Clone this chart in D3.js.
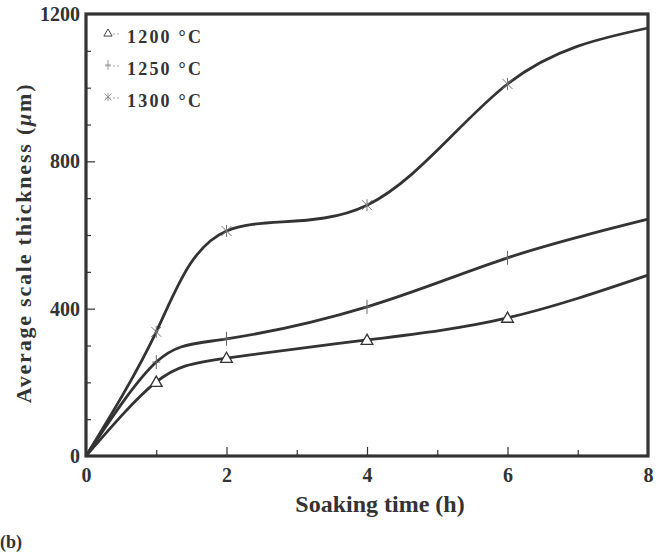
<!DOCTYPE html>
<html>
<head>
<meta charset="utf-8">
<script src="https://cdn.jsdelivr.net/npm/d3@7"></script>
<style>
  body { margin: 0; background: #fff; }
  svg text { font-family: "Liberation Serif", "Times New Roman", serif; font-weight: bold; fill: #333; }
</style>
</head>
<body>
<div id="chart"></div>
<script>
// soaking time (h)
const hours = [0, 1, 2, 4, 6, 8];
// average scale thickness (um)
const t1200 = [0, 201, 266, 315, 375, 491];
const t1250 = [0, 255, 318, 405, 538, 643];
const t1300 = [0, 337, 611, 681, 1010, 1162];
const seriesNames = ["1200 \u00b0C", "1250 \u00b0C", "1300 \u00b0C"];
const xTicks = [0, 2, 4, 6, 8];
const yTicks = [0, 400, 800, 1200];

const W = 665, H = 557;
const margin = { top: 14, right: 17, bottom: 101, left: 86 };
const width = W - margin.left - margin.right;
const height = H - margin.top - margin.bottom;
const ink = "#333";

const svg = d3.select("#chart").append("svg")
    .attr("width", W)
    .attr("height", H);

const g = svg.append("g")
    .attr("transform", `translate(${margin.left},${margin.top})`);

const x = d3.scaleLinear().domain([0, 8]).range([0, width]);
const y = d3.scaleLinear().domain([0, 1200]).range([height, 0]);

// inner ticks
g.append("g")
    .attr("transform", `translate(0,${height})`)
    .call(d3.axisBottom(x).tickValues(d3.range(1, 8)).tickSize(0).tickFormat(""))
    .call(a => a.select(".domain").remove())
    .call(a => a.selectAll(".tick line")
        .attr("y2", d => d % 2 === 0 ? -9 : -6)
        .attr("stroke", ink).attr("stroke-width", 1.2));

g.append("g")
    .call(d3.axisLeft(y).tickValues(d3.range(100, 1200, 100)).tickSize(0).tickFormat(""))
    .call(a => a.select(".domain").remove())
    .call(a => a.selectAll(".tick line")
        .attr("x2", d => d % 400 === 0 ? 9 : 5)
        .attr("stroke", ink).attr("stroke-width", 1.2));

// tick labels
function styleLabels(a) {
    a.select(".domain").remove();
    a.selectAll("text").attr("font-size", 20)
        .style("font-family", "Liberation Serif").style("font-weight", "bold").attr("fill", ink);
}
g.append("g")
    .attr("transform", `translate(0,${height})`)
    .call(d3.axisBottom(x).tickValues(xTicks).tickSize(0).tickPadding(12).tickFormat(d3.format("d")))
    .call(styleLabels);

g.append("g")
    .call(d3.axisLeft(y).tickValues(yTicks).tickSize(0).tickPadding(6).tickFormat(d3.format("d")))
    .call(styleLabels);

// frame
g.append("rect")
    .attr("width", width).attr("height", height)
    .attr("fill", "none").attr("stroke", ink).attr("stroke-width", 3.2);

// curves
const line = d3.line()
    .x((d, i) => x(hours[i]))
    .y(d => y(d))
    .curve(d3.curveNatural);

[t1200, t1250, t1300].forEach(s => {
    g.append("path")
        .datum(s)
        .attr("d", line)
        .attr("fill", "none")
        .attr("stroke", ink)
        .attr("stroke-width", 2.8);
});

// markers (none shown at the end point on the frame)
const tri = d3.symbol().type(d3.symbolTriangle).size(60);
function drawMarker(sel, k) {
    if (k === 0) {
        sel.append("path").attr("d", tri).attr("fill", "#fff").attr("stroke", ink).attr("stroke-width", 1.3)
            .attr("transform", "translate(0,1)");
    } else if (k === 1) {
        sel.append("path").attr("d", "M0,-7V7").attr("stroke", "#666").attr("stroke-width", 1);
        sel.append("path").attr("d", "M-4,0H4").attr("stroke", "#666").attr("stroke-width", 1);
    } else {
        sel.append("path").attr("d", "M-5,-5L5,5M-5,5L5,-5M0,-6V6").attr("stroke", "#777").attr("stroke-width", 1);
    }
}

[t1200, t1250, t1300].forEach((s, k) => {
    const pts = s.map((v, i) => ({ h: hours[i], v })).filter(p => p.h > 0 && p.h < 8);
    g.selectAll(null)
        .data(pts)
        .enter().append("g")
        .attr("transform", p => `translate(${x(p.h)},${y(p.v)})`)
        .each(function () { drawMarker(d3.select(this), k); });
});

// legend
const legend = g.append("g").attr("transform", "translate(23,19)");
seriesNames.forEach((name, k) => {
    const row = legend.append("g").attr("transform", `translate(0,${k * 32})`);
    row.append("path").attr("d", "M-4,1H10").attr("stroke", "#999").attr("stroke-width", 0.8).attr("stroke-dasharray", "2,2");
    const m = row.append("g").attr("transform", "translate(-1,0) scale(0.7)");
    drawMarker(m, k);
    row.append("text")
        .attr("x", 18).attr("y", 10)
        .attr("font-size", 18)
        .style("letter-spacing", "2.2px")
        .text(name);
});

// axis titles
svg.append("text")
    .attr("x", 380).attr("y", 512)
    .attr("text-anchor", "middle")
    .attr("font-size", 24)
    .text("Soaking time (h)");

svg.append("text")
    .attr("transform", "translate(31,243) rotate(-90)")
    .attr("text-anchor", "middle")
    .attr("font-size", 22)
    .style("letter-spacing", "1.8px")
    .html("Average scale thickness (<tspan font-style='italic'>\u03bc</tspan>m)");

svg.append("text")
    .attr("x", 0).attr("y", 548)
    .attr("font-size", 18)
    .text("(b)");
</script>
</body>
</html>
